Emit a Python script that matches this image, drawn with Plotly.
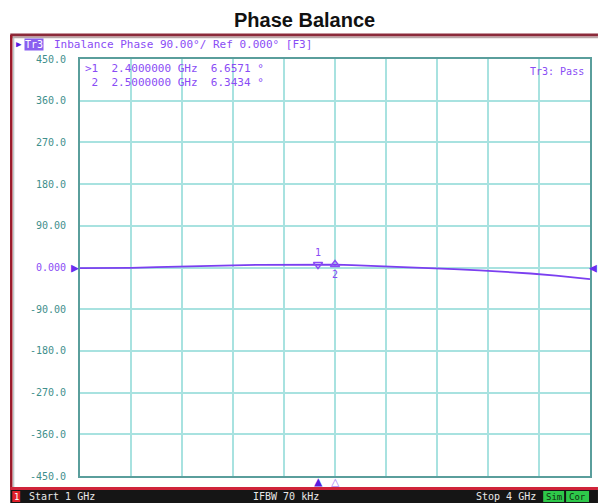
import plotly.graph_objects as go

# Phase imbalance trace (GHz, degrees)
freq_ghz = [1.0, 1.15, 1.3, 1.45, 1.6, 1.75, 1.9, 2.05, 2.2, 2.3, 2.4, 2.5, 2.6, 2.75, 2.9,
            3.05, 3.2, 3.35, 3.5, 3.65, 3.8, 3.95, 4.0]
phase_deg = [-1.2, -1.5, -0.8, 0.6, 1.5, 3.2, 4.6, 5.8, 6.3, 6.6, 6.66, 6.34, 5.2, 3.3, 1.0,
             -1.2, -3.4, -6.0, -9.0, -13.0, -17.5, -22.5, -25.0]

marker_freq = [2.4, 2.5]
marker_phase = [6.6571, 6.3434]
marker_names = ['1', '2']

y_ticks = [450, 360, 270, 180, 90, 0, -90, -180, -270, -360, -450]
y_ticktext = ['450.0', '360.0', '270.0', '180.0', '90.00',
              '<span style="color:#8a4cf5">0.000</span>',
              '-90.00', '-180.0', '-270.0', '-360.0', '-450.0']
x_ticks = [1.0, 1.3, 1.6, 1.9, 2.2, 2.5, 2.8, 3.1, 3.4, 3.7, 4.0]

W, H = 600, 503
L, R, T, B = 80, 592, 59, 476

def px(x):
    return (x - L) / (R - L)

def py(y):
    return (B - y) / (B - T)

PURPLE = '#8a4cf5'
TEAL = '#3f8f8c'
MONO = 'DejaVu Sans Mono'

fig = go.Figure()

fig.add_trace(go.Scatter(
    x=freq_ghz, y=phase_deg, mode='lines',
    line=dict(color='#7b3ff0', width=1.8),
    showlegend=False, hoverinfo='skip'
))

# marker 1 (above the trace) and marker 2 (below)
fig.add_trace(go.Scatter(
    x=marker_freq[:1], y=marker_phase[:1], mode='markers+text',
    marker=dict(symbol='triangle-down-open', size=8, color=PURPLE, line=dict(width=1.5)),
    text=marker_names[:1], textposition='top center',
    textfont=dict(family=MONO, size=10, color=PURPLE),
    showlegend=False, cliponaxis=False
))
fig.add_trace(go.Scatter(
    x=marker_freq[1:], y=marker_phase[1:], mode='markers+text',
    marker=dict(symbol='triangle-up-open', size=8, color=PURPLE, line=dict(width=1.5)),
    text=marker_names[1:], textposition='bottom center',
    textfont=dict(family=MONO, size=10, color=PURPLE),
    showlegend=False, cliponaxis=False
))

shapes = [
    # instrument frame
    dict(type='line', xref='paper', yref='paper', x0=px(10), x1=px(600), y0=py(35), y1=py(35),
         line=dict(color='#8b2a3a', width=3)),
    dict(type='line', xref='paper', yref='paper', x0=px(10), x1=px(600), y0=py(37.5), y1=py(37.5),
         line=dict(color='#b8a8a8', width=1.5)),
    dict(type='line', xref='paper', yref='paper', x0=px(11), x1=px(11), y0=py(35), y1=py(490),
         line=dict(color='#9a1a2a', width=2.5)),
    dict(type='line', xref='paper', yref='paper', x0=px(13.5), x1=px(13.5), y0=py(37), y1=py(488),
         line=dict(color='#a8b8b8', width=1)),
    dict(type='line', xref='paper', yref='paper', x0=px(10), x1=px(600), y0=py(488.5), y1=py(488.5),
         line=dict(color='#d0243a', width=3)),
    # status bar
    dict(type='rect', xref='paper', yref='paper', x0=px(10), x1=px(600), y0=py(490), y1=py(503),
         fillcolor='#151515', line=dict(width=0)),
    dict(type='rect', xref='paper', yref='paper', x0=px(12), x1=px(20), y0=py(491), y1=py(502),
         fillcolor='#e0202a', line=dict(width=0)),
    dict(type='rect', xref='paper', yref='paper', x0=px(545), x1=px(566), y0=py(491), y1=py(502),
         fillcolor='#2ec84a', line=dict(width=0)),
    dict(type='rect', xref='paper', yref='paper', x0=px(568), x1=px(591), y0=py(491), y1=py(502),
         fillcolor='#2ec84a', line=dict(width=0)),
]


def label(text, x, y, size=10, color=PURPLE, xanchor='left', family=MONO, **kw):
    return dict(text=text, xref='paper', yref='paper', x=px(x), y=py(y),
                xanchor=xanchor, yanchor='middle', showarrow=False,
                font=dict(family=family, size=size, color=color), **kw)


annotations = [
    label('<b>Phase Balance</b>', 305, 20, size=20, color='#111111', xanchor='center',
          family='Liberation Sans'),
    label('\u25b6', 14, 44, size=9, color='#5a1de0'),
    label('Tr3', 24, 44, size=10, color='white', bgcolor='#8a60f0', borderpad=0),
    label('Inbalance Phase 90.00\u00b0/ Ref 0.000\u00b0 [F3]', 52, 44, size=11),
    dict(text='>1  2.4000000 GHz  6.6571 \u00b0<br> 2  2.5000000 GHz  6.3434 \u00b0',
         xref='paper', yref='paper', x=px(83), y=py(60), xanchor='left', yanchor='top',
         align='left', showarrow=False,
         font=dict(family=MONO, size=11, color=PURPLE)),
    label('Tr3: Pass', 588, 71, xanchor='right'),
    label('1', 16, 497, size=9, color='white', xanchor='center'),
    label('Start 1 GHz', 27, 497, color='#e8e8e8'),
    label('IFBW 70 kHz', 252, 497, color='#e8e8e8'),
    label('Stop 4 GHz', 540, 497, color='#e8e8e8', xanchor='right'),
    label('Sim', 555.5, 497, size=9, color='#103010', xanchor='center'),
    label('Cor', 579.5, 497, size=9, color='#103010', xanchor='center'),
]

# stimulus markers under the grid (data x, pinned below the axis)
for f, sym, col in zip(marker_freq, ['\u25b2', '\u25b3'], ['#5a1de0', '#b18cf8']):
    annotations.append(dict(text=sym, x=f, xref='x', y=py(481.5), yref='paper',
                            xanchor='center', yanchor='middle', showarrow=False,
                            font=dict(family=MONO, size=14, color=col)))

# reference level arrows at 0
annotations.append(dict(text='\u25b6', x=1, xref='x', y=0, yref='y', xanchor='right',
                        yanchor='middle', showarrow=False, xshift=1,
                        font=dict(family=MONO, size=13, color='#6a2ff0')))
annotations.append(dict(text='\u25c0', x=4, xref='x', y=0, yref='y', xanchor='left',
                        yanchor='middle', showarrow=False, xshift=-3,
                        font=dict(family=MONO, size=13, color='#6a2ff0')))

fig.update_layout(
    width=W, height=H,
    margin=dict(l=L, r=W - R, t=T, b=H - B),
    paper_bgcolor='white', plot_bgcolor='white',
    showlegend=False,
    shapes=shapes,
    annotations=annotations,
    xaxis=dict(range=[1, 4], tickvals=x_ticks, showticklabels=False,
               showgrid=True, gridcolor='#a8e2e0', gridwidth=1.5,
               zeroline=False, showline=True, mirror=True,
               linecolor='#5a9e9c', linewidth=2),
    yaxis=dict(range=[-450, 450], tickvals=y_ticks, ticktext=y_ticktext,
               showgrid=True, gridcolor='#a8e2e0', gridwidth=1.5,
               zeroline=False, showline=True, mirror=True,
               linecolor='#5a9e9c', linewidth=2,
               ticks='outside', ticklen=10, tickcolor='rgba(0,0,0,0)',
               tickfont=dict(family=MONO, size=10, color=TEAL)),
)

fig.write_html("out.html", config={'displayModeBar': False},
               post_script="document.body.style.margin='0';")
